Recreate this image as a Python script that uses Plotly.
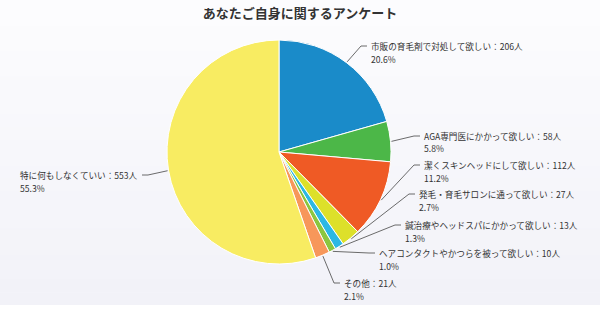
import math
import plotly.graph_objects as go

# Survey answers (clockwise from 12 o'clock)
labels = [
    "市販の育毛剤で対処して欲しい",
    "AGA専門医にかかって欲しい",
    "潔くスキンヘッドにして欲しい",
    "発毛・育毛サロンに通って欲しい",
    "鍼治療やヘッドスパにかかって欲しい",
    "ヘアコンタクトやかつらを被って欲しい",
    "その他",
    "特に何もしなくていい",
]
counts = [206, 58, 112, 27, 13, 10, 21, 553]
colors = ["#1a8bc9", "#4cb748", "#ef5a25", "#dde02a", "#2cb8e4", "#8cc63f", "#f7975a", "#f8ec62"]

# Label layout in pixels: text left x, first-line y, connector end x
label_pos = [
    (369, 46, 367),
    (422, 136, 420),
    (422, 165, 420),
    (417, 194, 415),
    (403, 225, 401),
    (377, 253, 375),
    (342, 283, 340),
    (18, 175, 142),
]

W, H = 600, 334
CX, CY, R = 279, 152, 112
FONT = "Noto Sans CJK JP"
LINE_GAP = 12.5

total = sum(counts)
pcts = [c / total * 100 for c in counts]


def px(x, y):
    return x / W, 1 - y / H


fig = go.Figure()

# Soft vertical gradient behind the chart area (white at top, pale lavender lower down)
bands = 24
top_c, bot_c = (252, 252, 254), (242, 242, 248)
band_h = 305 / bands
for i in range(bands):
    t = i / (bands - 1)
    c = tuple(round(a + (b - a) * t) for a, b in zip(top_c, bot_c))
    y_top = i * band_h
    y_bot = (i + 1) * band_h + 0.5
    fig.add_shape(type="rect", xref="paper", yref="paper", x0=0, x1=1,
                  y0=px(0, min(y_bot, 305))[1], y1=px(0, y_top)[1],
                  fillcolor="rgb({},{},{})".format(*c), line_width=0, layer="below")

x0, y1 = px(CX - R, CY - R)
x1, y0 = px(CX + R, CY + R)
fig.add_trace(go.Pie(
    labels=labels,
    values=counts,
    sort=False,
    direction="clockwise",
    rotation=0,
    marker=dict(colors=colors, line=dict(color="#ffffff", width=1)),
    textinfo="none",
    hoverinfo="label+value+percent",
    domain=dict(x=[x0, x1], y=[y0, y1]),
    showlegend=False,
))

cum = 0
for lab, cnt, pct, (tx, ty, lx) in zip(labels, counts, pcts, label_pos):
    mid = (cum + cnt / 2) / total * 2 * math.pi
    cum += cnt
    ex = CX + (R + 1) * math.sin(mid)
    ey = CY - (R + 1) * math.cos(mid)
    sgn = 1 if lx > ex else -1
    # connector: slice edge -> just before text -> text
    bx, by = lx - sgn * 6, ty
    pts = [px(ex, ey), px(bx, by), px(lx, ty)]
    path = "M {} {} L {} {} L {} {}".format(*[v for p in pts for v in p])
    fig.add_shape(type="path", xref="paper", yref="paper", path=path,
                  line=dict(color="#5a5a5a", width=0.9))
    # two text lines: answer with count, then share
    for k, txt in enumerate([f"{lab}：{cnt}人", f"{pct:.1f}%"]):
        ax, ay = px(tx, ty + k * LINE_GAP)
        fig.add_annotation(
            x=ax, y=ay, xref="paper", yref="paper",
            xanchor="left", yanchor="middle", align="left", showarrow=False,
            text=txt,
            font=dict(family=FONT, size=8.6, color="#333333"),
        )

fig.update_layout(
    width=W, height=H,
    margin=dict(l=0, r=0, t=0, b=0),
    paper_bgcolor="#ffffff",
    plot_bgcolor="#ffffff",
    title=dict(text="<b>あなたご自身に関するアンケート</b>", x=0.5, xanchor="center",
               y=1 - 13 / H, yanchor="middle",
               font=dict(family=FONT, size=13, color="#333333")),
)

fig.write_html("out.html")
